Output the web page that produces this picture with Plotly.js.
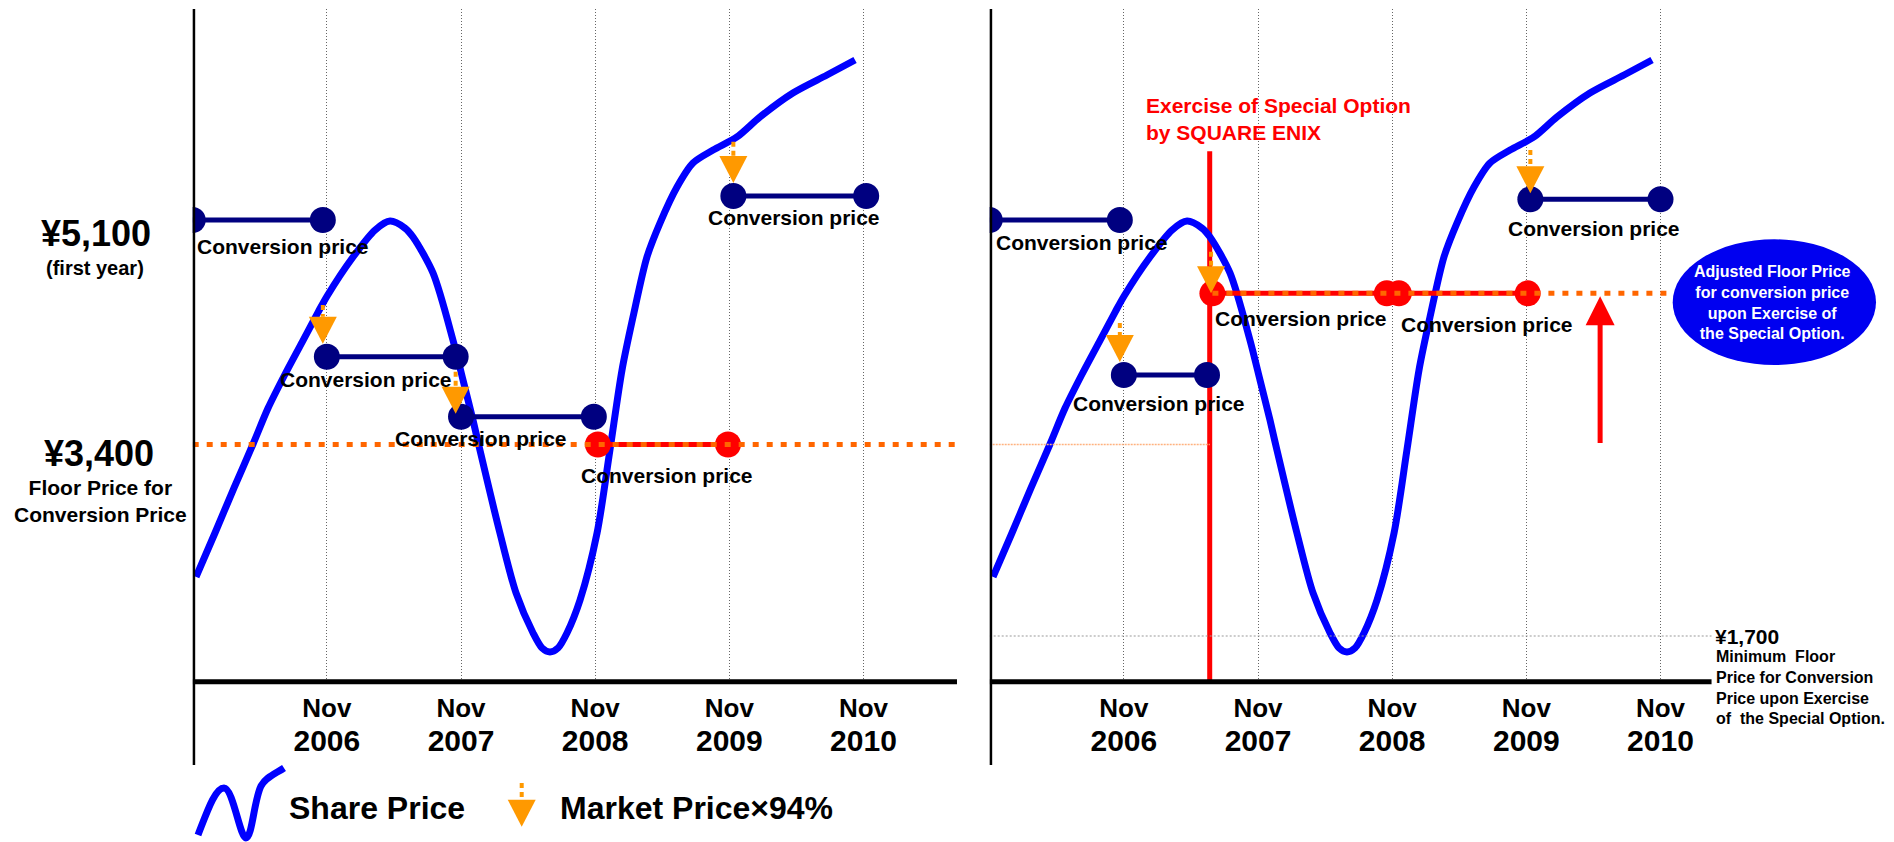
<!DOCTYPE html>
<html>
<head>
<meta charset="utf-8">
<script src="https://cdn.plot.ly/plotly-3.0.1.min.js"></script>
<style>
  html, body { margin: 0; padding: 0; background: #ffffff; }
  #chart { width: 1894px; height: 842px; }
</style>
</head>
<body>
<div id="chart"></div>
<script>
// ---- Data -------------------------------------------------------------
// Time axis: years after the November 2005 issue date.
const tickYears = [1, 2, 3, 4, 5];
const tickMonth = 'Nov';
const tickYearLabels = ['2006', '2007', '2008', '2009', '2010'];

// Illustrative share-price path (years after issue, yen).
const priceT = [0.025, 0.166, 0.308, 0.450, 0.562, 0.689, 0.816, 0.935, 1.002, 1.195,
  1.359, 1.471, 1.582, 1.642, 1.791, 1.940, 2.015, 2.089, 2.141, 2.290,
  2.410, 2.537, 2.604, 2.663, 2.723, 2.790, 2.887, 3.014, 3.110, 3.200,
  3.282, 3.386, 3.483, 3.610, 3.729, 3.879, 4.057, 4.228, 4.474, 4.728, 4.937];
const priceYen = [2397, 2730, 3071, 3404, 3676, 3934, 4176, 4403, 4525, 4820,
  5024, 5092, 5039, 4971, 4699, 4191, 3888, 3586, 3358, 2730,
  2276, 1973, 1859, 1829, 1859, 1973, 2222, 2730, 3358, 3964,
  4365, 4820, 5077, 5350, 5532, 5630, 5729, 5880, 6062, 6198, 6312];

const firstYearPrice = 5100;
const floorPrice = 3400;
const adjustedFloor = 4545;
const minimumFloor = 1700;

// Left panel: conversion-price periods without the special option.
const convStartA = [0, 1.00, 2.00, 3.02, 4.03];
const convEndA   = [0.97, 1.96, 2.99, 3.99, 5.02];
const convPriceA = [5100, 4065, 3610, 3400, 5282];
// Resets to market price x 94%: date, market price, new conversion price.
const resetTA = [0.97, 1.96, 4.03];
const marketA = [4456, 3951, 5693];
const resetPriceA = [4065, 3610, 5282];

// Right panel: with exercise of the special option.
const exerciseT = 1.64;
const exerciseMarkTop = 5620;
const convStartB = [0, 1.00, 1.66, 3.05, 4.03];
const convEndB   = [0.97, 1.62, 2.96, 4.01, 5.00];
const convPriceB = [5100, 3926, 4545, 4545, 5257];
const resetTB = [0.97, 1.65, 4.03];
const marketB = [4320, 4860, 5630];
const resetPriceB = [3926, 4545, 5257];
const floorRaiseT = 4.55;

// ---- Styling / layout helpers -----------------------------------------
const W = 1894, H = 842;
const FONT = 'Liberation Sans, Arial, Helvetica, sans-serif';
const NAVY = '#000080', RED = '#ff0000', BLUE = '#0000ff', AMBER = '#ff9900', ORANGE = '#ff6600';
const yRange = [1604, 6698];
const xRangeA = [0, 5.697];
const xRangeB = [0, 5.382];
const PLOT_TOP = 9, PLOT_BOTTOM = 681.7;          // px
const PANEL_A_LEFT = 192.7, PANEL_B_LEFT = 989.7; // px
const PX_PER_YEAR = 134.16;
const YEN_PER_PX = (yRange[1] - yRange[0]) / (PLOT_BOTTOM - PLOT_TOP);
const YR_PER_PX = 1 / PX_PER_YEAR;
const HEAD_LEN = 27, HEAD_HALF = 14;              // px, arrow heads
const px = v => +(v / W).toFixed(5);
const py = v => +(1 - v / H).toFixed(5);

// shifts (px) of each "Conversion price" caption relative to its period midpoint
const captionShiftA = [[25, -26], [-25, -23], [-46, -22], [4, -31], [-6, -22]];
const captionShiftB = [[27, -22], [-6, -28], [1, -25], [24, -31], [-1, -29]];
const arrowStandoffA = [13, 3, 13];
const arrowStandoffB = [13, 0, 6];

const traces = [];
const annotations = [];
const shapes = [];

function bold(size, color) {
  return { family: FONT, size: size, color: color || '#000000', weight: 700 };
}

// exercise marker line (right panel)
traces.push({
  x: [exerciseT, exerciseT], y: [exerciseMarkTop, yRange[0]],
  xaxis: 'x2', yaxis: 'y2', mode: 'lines',
  line: { color: RED, width: 5 }, hoverinfo: 'skip'
});

// share price, drawn in both panels
[['x', 'y'], ['x2', 'y2']].forEach(([xa, ya]) => {
  traces.push({
    x: priceT, y: priceYen, xaxis: xa, yaxis: ya, mode: 'lines',
    line: { color: BLUE, width: 7, shape: 'spline', smoothing: 0.8 },
    hoverinfo: 'skip'
  });
});

function addPeriods(starts, ends, prices, floorLevel, xa, ya, shifts) {
  starts.forEach((s, i) => {
    const col = prices[i] === floorLevel ? RED : NAVY;
    traces.push({
      x: [s, ends[i]], y: [prices[i], prices[i]], xaxis: xa, yaxis: ya,
      mode: 'lines+markers',
      line: { color: col, width: 5 },
      marker: { color: col, size: 26 },
      hoverinfo: 'skip'
    });
    annotations.push({
      x: (s + ends[i]) / 2, y: prices[i], xref: xa, yref: ya,
      text: 'Conversion price', showarrow: false,
      xshift: shifts[i][0], yshift: shifts[i][1],
      font: bold(21)
    });
  });
}
addPeriods(convStartA, convEndA, convPriceA, floorPrice, 'x', 'y', captionShiftA);
addPeriods(convStartB, convEndB, convPriceB, adjustedFloor, 'x2', 'y2', captionShiftB);

// floor lines
traces.push({
  x: xRangeA, y: [floorPrice, floorPrice], xaxis: 'x', yaxis: 'y', mode: 'lines',
  line: { color: ORANGE, width: 5, dash: '6px,8px' }, hoverinfo: 'skip'
});
traces.push({
  x: [0, exerciseT], y: [floorPrice, floorPrice], xaxis: 'x2', yaxis: 'y2', mode: 'lines',
  line: { color: '#ffb27f', width: 1.5, dash: '2px,1px' }, hoverinfo: 'skip'
});
traces.push({
  x: [convStartB[2], 5.05], y: [adjustedFloor, adjustedFloor], xaxis: 'x2', yaxis: 'y2', mode: 'lines',
  line: { color: ORANGE, width: 5, dash: '6px,8px' }, hoverinfo: 'skip'
});
traces.push({
  x: [0, xRangeB[1]], y: [minimumFloor, minimumFloor], xaxis: 'x2', yaxis: 'y3', mode: 'lines',
  line: { color: '#999999', width: 1, dash: '2px,2px' }, hoverinfo: 'skip'
});

// market price x 94% arrows: dashed stem from the market price, head at the new conversion price
function addResets(ts, from, to, standoffs, xa, ya) {
  ts.forEach((t, i) => {
    const tip = to[i] + standoffs[i] * YEN_PER_PX;
    const base = tip + HEAD_LEN * YEN_PER_PX;
    const hw = HEAD_HALF * YR_PER_PX;
    traces.push({
      x: [t, t], y: [from[i], base], xaxis: xa, yaxis: ya, mode: 'lines',
      line: { color: AMBER, width: 4, dash: '5px,4px' }, hoverinfo: 'skip'
    });
    traces.push({
      x: [t - hw, t + hw, t, t - hw], y: [base, base, tip, base], xaxis: xa, yaxis: ya,
      mode: 'lines', fill: 'toself', fillcolor: AMBER, line: { width: 0, color: AMBER },
      hoverinfo: 'skip'
    });
  });
}
addResets(resetTA, marketA, resetPriceA, arrowStandoffA, 'x', 'y');
addResets(resetTB, marketB, resetPriceB, arrowStandoffB, 'x2', 'y2');

// floor raised to the adjusted level
annotations.push({
  x: floorRaiseT, y: adjustedFloor, ax: floorRaiseT, ay: floorPrice,
  xref: 'x2', yref: 'y2', axref: 'x2', ayref: 'y2',
  text: '', showarrow: true, arrowhead: 2, arrowsize: 1.16, arrowwidth: 5,
  arrowcolor: RED, standoff: 3
});

// price captions
const mid = { xanchor: 'center', yanchor: 'middle', showarrow: false };
annotations.push(
  Object.assign({ x: px(96), xref: 'paper', y: firstYearPrice, yref: 'y', yshift: -13,
    text: '¥5,100', font: bold(36) }, mid),
  Object.assign({ x: px(95), xref: 'paper', y: firstYearPrice, yref: 'y', yshift: -48,
    text: '(first year)', font: bold(20) }, mid),
  Object.assign({ x: px(99.5), xref: 'paper', y: floorPrice, yref: 'y', yshift: -9,
    text: '¥3,400', font: bold(36) }, mid),
  Object.assign({ x: px(100), xref: 'paper', y: floorPrice, yref: 'y', yshift: -56,
    text: 'Floor Price for<br>Conversion Price', font: bold(21) }, mid),
  Object.assign({ x: px(1144), xref: 'paper', y: py(119), yref: 'paper',
    text: 'Exercise of Special Option<br>by SQUARE ENIX', font: bold(21, RED) }, mid,
    { xanchor: 'left', align: 'left' }),
  Object.assign({ x: px(1773), xref: 'paper', y: py(302.5), yref: 'paper', align: 'center',
    text: 'Adjusted Floor Price<br>for conversion price<br>upon Exercise of<br>the Special Option.',
    font: bold(16, '#ffffff') }, mid),
  Object.assign({ x: px(1713), xref: 'paper', y: minimumFloor, yref: 'y3',
    text: '¥1,700', font: bold(21) }, mid, { xanchor: 'left' }),
  Object.assign({ x: px(1714), xref: 'paper', y: minimumFloor, yref: 'y3', yshift: -51,
    align: 'left',
    text: 'Minimum&nbsp; Floor<br>Price for Conversion<br>Price upon Exercise<br>of&nbsp; the Special Option.',
    font: bold(16) }, mid, { xanchor: 'left' }),
  // legend
  Object.assign({ x: px(287), xref: 'paper', y: py(808), yref: 'paper',
    text: 'Share Price', font: bold(32) }, mid, { xanchor: 'left' }),
  Object.assign({ x: px(558), xref: 'paper', y: py(808), yref: 'paper',
    text: 'Market Price×94%', font: bold(32) }, mid, { xanchor: 'left' })
);

// axis frame lines
[['x', xRangeA], ['x2', xRangeB]].forEach(([xa, rng]) => {
  shapes.push({ type: 'line', xref: xa, yref: 'paper', x0: 0, x1: 0, y0: py(765), y1: py(PLOT_TOP),
    line: { color: '#000000', width: 5 } });
  shapes.push({ type: 'line', xref: xa, yref: 'paper', x0: 0, x1: rng[1], y0: py(PLOT_BOTTOM), y1: py(PLOT_BOTTOM),
    line: { color: '#000000', width: 5 } });
});

// legend glyph for the share price
const sq = [[198, 835], [207, 812], [215, 788], [224, 788], [233, 788], [240, 838], [246, 838],
  [252, 838], [254, 800], [261, 786], [266, 777], [275, 774], [284, 768]];
let glyph = `M${px(sq[0][0])},${py(sq[0][1])}`;
for (let i = 1; i < sq.length; i += 3) {
  glyph += ` C${px(sq[i][0])},${py(sq[i][1])} ${px(sq[i + 1][0])},${py(sq[i + 1][1])} ${px(sq[i + 2][0])},${py(sq[i + 2][1])}`;
}
shapes.push({ type: 'path', xref: 'paper', yref: 'paper', path: glyph,
  line: { color: BLUE, width: 7 } });

// legend glyph for the market-price arrow
const lgX = 521.7, lgTip = 826.7;
shapes.push({ type: 'line', xref: 'paper', yref: 'paper',
  x0: px(lgX), x1: px(lgX), y0: py(783), y1: py(lgTip - HEAD_LEN),
  line: { color: AMBER, width: 4, dash: '5px,4px' } });
shapes.push({ type: 'path', xref: 'paper', yref: 'paper',
  path: `M${px(lgX - HEAD_HALF)},${py(lgTip - HEAD_LEN)} L${px(lgX + HEAD_HALF)},${py(lgTip - HEAD_LEN)} L${px(lgX)},${py(lgTip)} Z`,
  fillcolor: AMBER, line: { width: 0 } });

// callout ellipse
shapes.push({ type: 'circle', xref: 'paper', yref: 'paper', layer: 'below',
  x0: px(1672.7), x1: px(1876), y0: py(365), y1: py(239.3),
  fillcolor: '#0000f0', line: { width: 0 } });

const tickText = tickYearLabels.map(y => `${tickMonth}<br><span style="font-size:30px">${y}</span>`);
const xBase = {
  tickvals: tickYears, ticktext: tickText, tickfont: bold(26),
  showgrid: true, gridcolor: '#666666', gridwidth: 1, griddash: '1px,2px',
  showline: false, zeroline: false, ticks: '', fixedrange: true, ticklabelstandoff: 8
};
const yBase = { visible: false, range: yRange, domain: [py(PLOT_BOTTOM), py(PLOT_TOP)], fixedrange: true };

const layout = {
  width: W, height: H,
  margin: { l: 0, r: 0, t: 0, b: 0, pad: 0 },
  paper_bgcolor: '#ffffff', plot_bgcolor: 'rgba(0,0,0,0)',
  showlegend: false,
  xaxis: Object.assign({}, xBase, { domain: [px(PANEL_A_LEFT), px(PANEL_A_LEFT + xRangeA[1] * PX_PER_YEAR)], range: xRangeA, anchor: 'y' }),
  xaxis2: Object.assign({}, xBase, { domain: [px(PANEL_B_LEFT), px(PANEL_B_LEFT + xRangeB[1] * PX_PER_YEAR)], range: xRangeB, anchor: 'y2' }),
  yaxis: Object.assign({}, yBase, { anchor: 'x' }),
  yaxis2: Object.assign({}, yBase, { anchor: 'x2' }),
  // schematic reference scale for the minimum-floor marker
  yaxis3: { visible: false, overlaying: 'y2', anchor: 'x2', range: [1354, 6448], fixedrange: true },
  annotations: annotations,
  shapes: shapes
};

Plotly.newPlot('chart', traces, layout, { staticPlot: true, displayModeBar: false });
</script>
</body>
</html>
